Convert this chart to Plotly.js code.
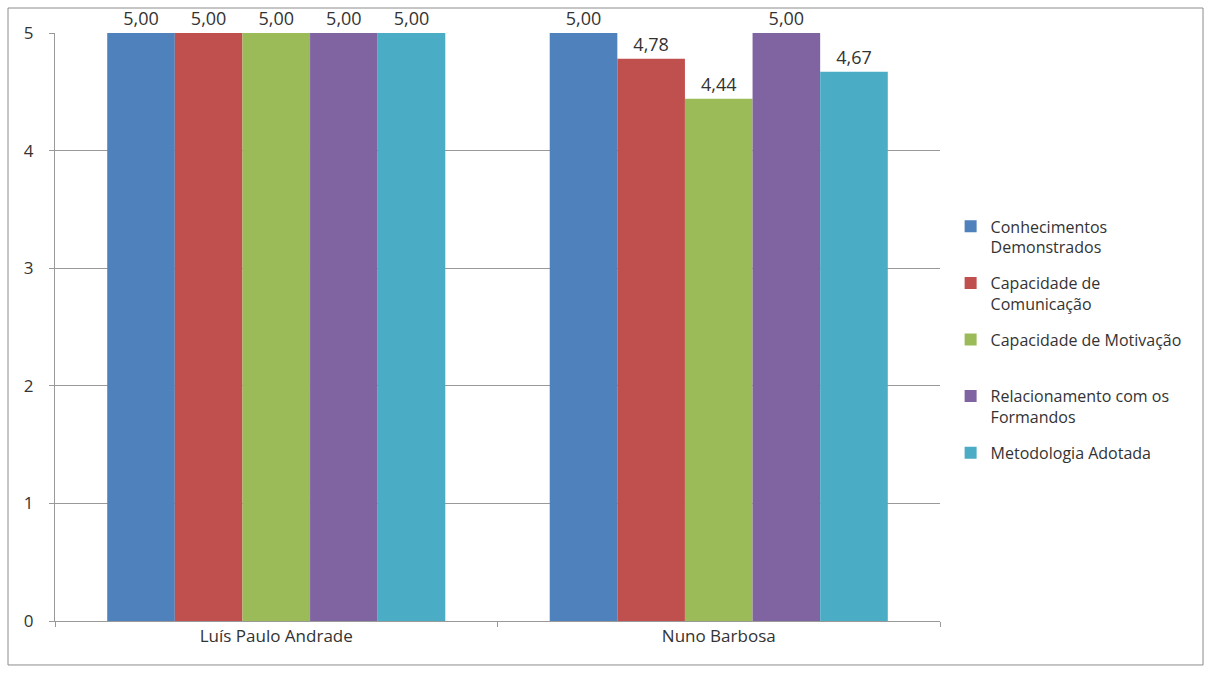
<!DOCTYPE html>
<html><head><meta charset="utf-8">
<script src="https://cdn.plot.ly/plotly-3.0.1.min.js"></script>
<style>body{margin:0;background:#fff}#chart{width:1208px;height:673px}</style>
</head><body><div id="chart"></div>
<script>
const categories = ["Luís Paulo Andrade", "Nuno Barbosa"];
const seriesNames = ["Conhecimentos<br>Demonstrados", "Capacidade de<br>Comunicação", "Capacidade de Motivação<br> ", "Relacionamento com os<br>Formandos", "Metodologia Adotada"];
const conhecimentos = [5.00, 5.00];
const comunicacao = [5.00, 4.78];
const motivacao = [5.00, 4.44];
const relacionamento = [5.00, 5.00];
const metodologia = [5.00, 4.67];
const colors = ["#4F81BD", "#C0504D", "#9BBB59", "#8064A2", "#4BACC6"];
const yTicks = [0, 1, 2, 3, 4, 5];

const values = [conhecimentos, comunicacao, motivacao, relacionamento, metodologia];
const font = "Open Sans, Liberation Sans, sans-serif";
const traces = values.map((v, i) => ({
  type: "bar", x: categories, y: v, name: seriesNames[i], legendgroup: "g" + i,
  marker: {color: colors[i]},
  texttemplate: "%{y:.2f}", textposition: "outside", cliponaxis: false,
  textfont: {family: font, size: 18, color: "#333"}
}));

const layout = {
  width: 1208, height: 673,
  margin: {l: 55, r: 268, t: 33, b: 52},
  separators: ",.",
  barmode: "group", bargap: 0.236, bargroupgap: 0,
  paper_bgcolor: "#fff", plot_bgcolor: "#fff",
  font: {family: font, size: 17, color: "#333"},
  xaxis: {
    type: "category", showgrid: false, showline: true, linecolor: "#999", linewidth: 1,
    ticks: "outside", tickson: "boundaries", ticklen: 5, tickcolor: "#999",
    tickfont: {family: font, size: 17, color: "#333"}, fixedrange: true
  },
  yaxis: {
    range: [0, 5], tickvals: yTicks, showgrid: true, gridcolor: "#999", gridwidth: 1,
    showline: true, linecolor: "#999", linewidth: 1, ticks: "outside", ticklen: 5,
    tickcolor: "#999", ticklabelstandoff: 12, zeroline: false,
    tickfont: {family: font, size: 17, color: "#333"}, fixedrange: true
  },
  legend: {
    x: 1.012, xanchor: "left", y: 0.70, yanchor: "top", valign: "top",
    font: {family: font, size: 16, color: "#333"}, traceorder: "grouped",
    tracegroupgap: 12, itemwidth: 30
  },
  shapes: [{
    type: "rect", xref: "paper", yref: "paper",
    x0: -0.0531, x1: 1.2972, y0: -0.0748, y1: 1.0425,
    line: {color: "#8c8c8c", width: 1}, fillcolor: "rgba(0,0,0,0)", layer: "below"
  }]
};
Plotly.newPlot("chart", traces, layout, {displayModeBar: false, staticPlot: true});
</script></body></html>
